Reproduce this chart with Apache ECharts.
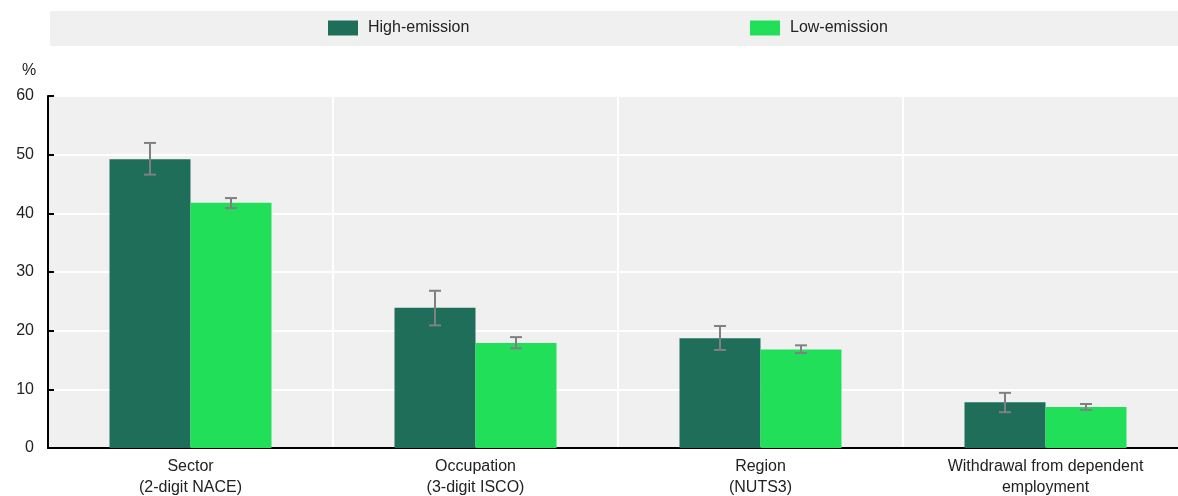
<!DOCTYPE html>
<html><head><meta charset="utf-8">
<script src="https://cdn.jsdelivr.net/npm/echarts@6/dist/echarts.min.js"></script>
<style>html,body{margin:0;padding:0;background:#fff}#c{width:1178px;height:496px}</style>
</head><body><div id="c"></div>
<script>
const categories = ['Sector\n(2-digit NACE)', 'Occupation\n(3-digit ISCO)', 'Region\n(NUTS3)', 'Withdrawal from dependent\nemployment'];
const seriesNames = ['High-emission', 'Low-emission'];
const highValues = [49.2, 23.9, 18.7, 7.8];
const highLower = [46.6, 20.9, 16.7, 6.1];
const highUpper = [52.0, 26.8, 20.8, 9.4];
const lowValues = [41.8, 17.9, 16.8, 7.0];
const lowLower = [40.9, 17.0, 16.2, 6.5];
const lowUpper = [42.6, 18.9, 17.5, 7.5];
const yTicks = [0, 10, 20, 30, 40, 50, 60];

const FONT = 'Liberation Sans, Arial, sans-serif';
const FS = 16;
const DARK = '#1f6e5a';
const LIGHT = '#22df5a';
const BAR_W = 81;

function errSeries(lower, upper, offset) {
  return {
    type: 'custom',
    silent: true,
    z: 10,
    data: lower.map((l, i) => [i, l, upper[i]]),
    renderItem: function (params, api) {
      const lo = api.coord([api.value(0), api.value(1)]);
      const hi = api.coord([api.value(0), api.value(2)]);
      const x = lo[0] + offset;
      const cap = 6;
      const style = { stroke: '#808080', lineWidth: 2 };
      return {
        type: 'group',
        children: [
          { type: 'line', shape: { x1: x, y1: lo[1], x2: x, y2: hi[1] }, style: style },
          { type: 'line', shape: { x1: x - cap, y1: lo[1], x2: x + cap, y2: lo[1] }, style: style },
          { type: 'line', shape: { x1: x - cap, y1: hi[1], x2: x + cap, y2: hi[1] }, style: style }
        ]
      };
    }
  };
}

const chart = echarts.init(document.getElementById('c'));
chart.setOption({
  animation: false,
  backgroundColor: '#fff',
  textStyle: { fontFamily: FONT },
  graphic: [
    { type: 'rect', left: 50, top: 11, shape: { width: 1128, height: 35 }, style: { fill: '#f0f0f0' }, z: -1 },
    { type: 'text', left: 22, top: 63, style: { text: '%', font: FS + 'px ' + FONT, fill: '#222' } }
  ],
  legend: [
    { data: [seriesNames[0]], left: 323, top: 15, itemWidth: 30, itemHeight: 15, icon: 'rect',
      textStyle: { fontSize: FS, color: '#222', fontFamily: FONT, padding: [0, 0, 0, 5] } },
    { data: [seriesNames[1]], left: 745, top: 15, itemWidth: 30, itemHeight: 15, icon: 'rect',
      textStyle: { fontSize: FS, color: '#222', fontFamily: FONT, padding: [0, 0, 0, 5] } }
  ],
  grid: { left: 48, top: 96, width: 1140, height: 352, show: true, backgroundColor: '#f0f0f0', borderWidth: 0,
          outerBoundsMode: 'none', containLabel: false },
  xAxis: {
    type: 'category',
    data: categories,
    axisLine: { lineStyle: { color: '#000', width: 2 } },
    axisTick: { inside: true, length: 6, lineStyle: { color: '#000', width: 2 } },
    axisLabel: { interval: 0, color: '#222', fontSize: FS, fontFamily: FONT, lineHeight: 21, margin: 8 },
    splitLine: { show: true, lineStyle: { color: '#fff', width: 2 } }
  },
  yAxis: {
    type: 'value', min: yTicks[0], max: yTicks[yTicks.length - 1], interval: 10,
    axisLine: { show: true, lineStyle: { color: '#000', width: 2 } },
    axisTick: { show: true, inside: true, length: 6, lineStyle: { color: '#000', width: 2 } },
    axisLabel: { color: '#222', fontSize: FS, fontFamily: FONT, margin: 14 },
    splitLine: { show: true, lineStyle: { color: '#fff', width: 2 } }
  },
  series: [
    { name: seriesNames[0], type: 'bar', data: highValues, barWidth: BAR_W, barGap: '0%',
      itemStyle: { color: DARK } },
    { name: seriesNames[1], type: 'bar', data: lowValues, barWidth: BAR_W, barGap: '0%',
      itemStyle: { color: LIGHT } },
    errSeries(highLower, highUpper, -BAR_W / 2),
    errSeries(lowLower, lowUpper, BAR_W / 2)
  ]
});
</script></body></html>
